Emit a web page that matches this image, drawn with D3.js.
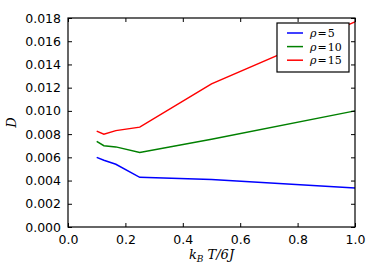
<!DOCTYPE html>
<html>
<head>
<meta charset="utf-8">
<script src="https://cdn.jsdelivr.net/npm/d3@7"></script>
<style>
  body { margin: 0; background: #fff; }
  svg text { font-family: "DejaVu Sans", sans-serif; }
</style>
</head>
<body>
<div id="chart"></div>
<script>
// data
var temps = [0.1, 0.125, 0.1667, 0.25, 0.5, 1.0];
var rho5  = [0.0060, 0.00575, 0.0054, 0.00428, 0.0041, 0.00336];
var rho10 = [0.00737, 0.0070, 0.0069, 0.00642, 0.00755, 0.0100];
var rho15 = [0.00826, 0.0080, 0.0083, 0.0086, 0.01233, 0.01767];
var seriesValues = ["5", "10", "15"];
var seriesColors = ["#0000ff", "#008000", "#ff0000"];
var xTicks = [0.0, 0.2, 0.4, 0.6, 0.8, 1.0];
var yTicks = [0.000, 0.002, 0.004, 0.006, 0.008, 0.010, 0.012, 0.014, 0.016, 0.018];

var W = 382, H = 267;
var m = {left: 68, right: 27, top: 18, bottom: 40};

var svg = d3.select("#chart").append("svg")
  .attr("width", W).attr("height", H);

var x = d3.scaleLinear().domain([0, 1]).range([m.left, W - m.right]);
var y = d3.scaleLinear().domain([0, 0.018]).range([H - m.bottom, m.top]);

// lines
var series = [rho5, rho10, rho15];
var line = d3.line().x(function(d, i){ return x(temps[i]); }).y(function(d){ return y(d); });
var g = svg.append("g");
series.forEach(function(s, k){
  g.append("path").datum(s)
    .attr("d", line)
    .attr("fill", "none")
    .attr("stroke", seriesColors[k])
    .attr("stroke-width", 1.5);
});

// frame
svg.append("rect")
  .attr("x", x(0)).attr("y", y(0.018))
  .attr("width", x(1) - x(0)).attr("height", y(0) - y(0.018))
  .attr("fill", "none").attr("stroke", "#000").attr("stroke-width", 1.2);

// axes, ticks pointing inwards
function styleAxis(sel){
  sel.select(".domain").remove();
  sel.selectAll(".tick line").attr("stroke", "#000").attr("stroke-width", 1);
  sel.selectAll(".tick text").attr("font-size", "12.5px").attr("fill", "#000")
    .style("font-family", "DejaVu Sans, sans-serif");
}
svg.append("g").attr("transform", "translate(0," + y(0) + ")")
  .call(d3.axisBottom(x).tickValues(xTicks).tickFormat(d3.format(".1f")).tickSizeInner(-4).tickPadding(8))
  .call(styleAxis);
svg.append("g").attr("transform", "translate(0," + y(0.018) + ")")
  .call(d3.axisTop(x).tickValues(xTicks).tickFormat("").tickSizeInner(-4))
  .call(styleAxis);
svg.append("g").attr("transform", "translate(" + x(0) + ",0)")
  .call(d3.axisLeft(y).tickValues(yTicks).tickFormat(d3.format(".3f")).tickSizeInner(-4).tickPadding(7))
  .call(styleAxis);
svg.append("g").attr("transform", "translate(" + x(1) + ",0)")
  .call(d3.axisRight(y).tickValues(yTicks).tickFormat("").tickSizeInner(-4))
  .call(styleAxis);

// axis labels
svg.append("text")
  .attr("transform", "translate(16," + ((y(0) + y(0.018)) / 2) + ") rotate(-90)")
  .attr("text-anchor", "middle")
  .attr("font-size", "13px")
  .style("font-family", "DejaVu Serif, serif")
  .attr("font-style", "italic")
  .text("D");

var xl = svg.append("text")
  .attr("x", (x(0) + x(1)) / 2).attr("y", 259)
  .attr("text-anchor", "middle")
  .attr("font-size", "13px")
  .style("font-family", "DejaVu Serif, serif")
  .attr("font-style", "italic");
xl.append("tspan").text("k");
xl.append("tspan").attr("font-size", "9px").attr("dy", 3).text("B");
xl.append("tspan").attr("dy", -3).text(" T/6J");

// legend
var lg = svg.append("g");
lg.append("rect")
  .attr("x", 277).attr("y", 23).attr("width", 72).attr("height", 49)
  .attr("fill", "#fff").attr("stroke", "#000").attr("stroke-width", 1.2);
seriesValues.forEach(function(v, k){
  var yy = 33 + k * 13.6;
  lg.append("line")
    .attr("x1", 287).attr("x2", 303).attr("y1", yy).attr("y2", yy)
    .attr("stroke", seriesColors[k]).attr("stroke-width", 1.5);
  var t = lg.append("text")
    .attr("x", 310).attr("y", yy + 4)
    .attr("font-size", "11px")
    .style("font-family", "DejaVu Serif, serif");
  t.append("tspan").attr("font-style", "italic").text("\u03C1");
  t.append("tspan").attr("dx", 1).text("=");
  t.append("tspan").attr("dx", 1).text(v);
});
</script>
</body>
</html>
